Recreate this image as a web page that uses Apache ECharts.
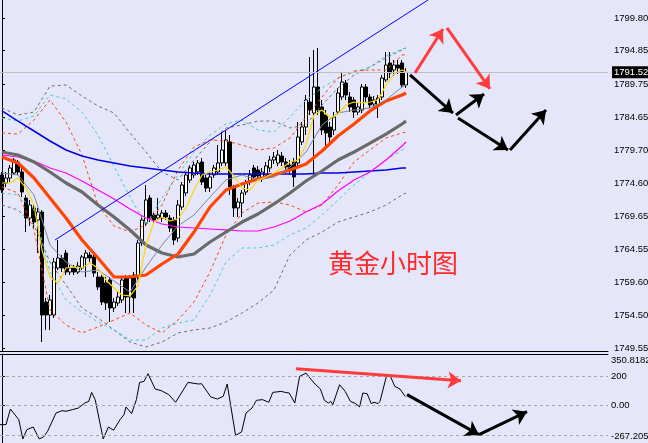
<!DOCTYPE html>
<html><head><meta charset="utf-8">
<script src="https://cdn.jsdelivr.net/npm/echarts/dist/echarts.min.js"></script>
<style>html,body{margin:0;padding:0;background:#e6e6fa;}#c{width:648px;height:443px;}</style>
</head><body><div id="c"></div>
<script>
// ---- candles (index = bar number) ----
const opens=[1775.89,1774.67,1775.43,1776.20,1777.87,1776.35,1772.39,1769.34,1770.87,1769.04,1770.26,1756.55,1754.57,1754.57,1761.73,1763.25,1764.01,1761.12,1761.73,1761.12,1761.73,1763.25,1763.71,1763.41,1760.36,1760.36,1759.45,1759.90,1755.64,1756.40,1756.86,1760.36,1757.31,1760.66,1760.36,1765.54,1768.58,1772.39,1769.80,1769.34,1769.34,1770.10,1769.34,1769.04,1766.30,1771.02,1773.15,1775.13,1775.89,1776.35,1777.87,1775.43,1773.91,1775.89,1776.35,1777.72,1777.72,1780.92,1774.06,1770.87,1771.63,1773.30,1774.83,1776.96,1776.65,1775.43,1775.89,1776.96,1778.18,1777.72,1778.78,1777.87,1777.41,1777.87,1777.72,1780.92,1783.20,1787.01,1785.33,1789.29,1786.25,1785.03,1783.20,1782.74,1785.48,1787.77,1789.90,1787.77,1787.31,1785.48,1785.79,1789.29,1787.77,1786.70,1786.55,1787.77,1790.36,1792.95,1791.88,1792.64,1792.95,1789.60];
const closes=[1773.61,1775.43,1776.96,1778.18,1776.35,1773.30,1769.34,1771.32,1768.73,1770.26,1754.57,1754.57,1756.86,1762.64,1763.25,1761.73,1761.12,1761.73,1761.12,1762.03,1763.41,1764.01,1763.25,1760.97,1758.84,1756.55,1756.40,1755.64,1756.55,1757.31,1759.90,1757.31,1760.21,1757.16,1765.54,1769.04,1772.08,1769.34,1769.04,1769.80,1770.10,1769.50,1767.82,1765.99,1771.32,1774.37,1775.89,1776.96,1777.41,1777.72,1774.83,1773.91,1775.59,1776.96,1777.72,1779.70,1781.22,1774.06,1770.87,1771.78,1773.15,1774.67,1775.89,1775.59,1775.74,1776.35,1777.26,1778.18,1778.63,1778.94,1777.87,1777.11,1776.65,1775.59,1781.68,1783.20,1787.31,1785.79,1789.29,1785.79,1782.74,1782.29,1781.68,1784.72,1788.38,1790.05,1788.07,1786.25,1785.48,1786.25,1789.29,1787.77,1786.55,1787.31,1787.62,1790.66,1792.64,1791.42,1792.64,1792.18,1789.60,1791.52];
const lows=[1773.15,1774.06,1774.83,1775.89,1775.89,1772.54,1767.21,1768.13,1767.82,1764.01,1750.46,1752.29,1752.29,1754.12,1761.42,1761.12,1760.66,1760.66,1760.66,1760.82,1761.42,1760.36,1762.64,1760.36,1758.38,1756.09,1755.33,1753.51,1755.03,1755.94,1756.40,1754.88,1754.88,1754.88,1759.90,1765.08,1768.13,1768.73,1768.58,1769.04,1768.73,1769.04,1767.21,1765.23,1765.69,1770.56,1772.69,1774.67,1775.43,1775.89,1774.37,1773.30,1773.30,1775.43,1775.89,1777.26,1777.26,1772.85,1769.50,1769.50,1769.50,1772.85,1774.37,1775.13,1775.13,1774.83,1775.43,1776.35,1777.57,1777.26,1777.26,1776.35,1775.89,1774.06,1777.11,1780.46,1781.98,1785.03,1775.59,1785.03,1781.98,1779.70,1780.92,1781.98,1785.03,1787.31,1787.31,1785.48,1784.57,1785.03,1785.33,1787.01,1786.09,1786.09,1784.57,1787.31,1790.05,1790.66,1790.97,1791.27,1789.14,1789.14];
const highs=[1776.35,1776.35,1777.41,1778.48,1778.18,1776.96,1772.85,1772.08,1771.32,1770.87,1770.56,1757.16,1757.62,1763.25,1765.99,1763.71,1764.47,1762.19,1762.19,1762.64,1763.71,1764.47,1764.17,1763.71,1761.12,1760.66,1760.36,1760.36,1757.16,1758.07,1760.36,1760.66,1760.66,1761.12,1765.99,1769.80,1774.37,1772.85,1770.26,1772.39,1770.56,1770.56,1769.80,1769.50,1772.08,1774.83,1776.35,1777.41,1777.87,1778.18,1778.48,1775.89,1776.35,1777.41,1780.46,1782.44,1782.74,1781.98,1774.37,1772.39,1773.61,1775.13,1776.65,1777.41,1777.26,1776.96,1777.87,1778.78,1779.39,1779.70,1779.39,1778.48,1778.18,1778.48,1783.96,1783.96,1788.07,1793.86,1794.93,1795.23,1787.31,1785.79,1783.96,1785.48,1789.14,1791.58,1790.36,1788.53,1787.77,1786.86,1789.75,1789.75,1788.23,1787.92,1788.07,1791.12,1794.62,1794.62,1793.40,1793.40,1793.40,1792.18];
const lastPrice=1791.52;

// ---- indicator lines, read at sampled bars ----
const idxEvery4=[0,4,8,12,16,20,24,28,32,36,40,44,48,52,56,60,64,68,72,76,80,84,88,92,96,100,101];
const idxEvery2=[0,2,4,6,8,10,12,14,16,18,20,22,24,26,28,30,32,34,36,38,40,42,44,46,48,50,52,54,56,58,60,62,64,66,68,70,72,74,76,78,80,82,84,86,88,90,92,94,96,98,100,101];
const maYellow=[1774.67,1774.67,1775.43,1773.91,1771.32,1764.47,1760.36,1759.45,1761.73,1761.88,1761.73,1762.49,1761.73,1759.90,1758.69,1757.62,1757.47,1758.99,1765.23,1768.73,1769.50,1768.89,1769.19,1770.87,1773.61,1775.89,1776.35,1776.65,1777.11,1775.74,1773.91,1773.61,1775.13,1775.59,1776.20,1776.96,1777.87,1778.18,1780.46,1785.03,1785.79,1784.57,1785.18,1786.55,1787.01,1786.86,1787.01,1787.31,1789.60,1791.27,1791.88,1791.58];
const maGrayThin=[1776.20,1775.89,1772.85,1765.23,1762.64,1761.12,1761.42,1759.75,1758.07,1761.88,1765.23,1768.13,1769.80,1772.54,1775.13,1775.89,1775.13,1775.59,1777.11,1779.39,1783.51,1785.33,1785.79,1786.09,1787.31,1789.29,1789.60];
const maOrange=[1778.63,1777.72,1775.43,1772.39,1769.34,1765.99,1763.25,1760.36,1760.36,1760.66,1762.34,1763.86,1767.21,1771.02,1773.61,1774.52,1775.28,1775.89,1776.65,1777.57,1779.55,1781.83,1783.66,1785.64,1787.16,1788.07,1788.38];
const maDarkGray=[1779.39,1778.94,1777.87,1776.35,1774.67,1773.30,1771.32,1769.50,1767.52,1765.23,1764.01,1763.41,1763.86,1765.69,1767.21,1768.73,1769.95,1771.48,1773.15,1774.98,1776.50,1778.18,1779.39,1780.76,1782.13,1783.66,1784.11];
const maMagenta=[1778.94,1778.63,1778.02,1776.96,1776.20,1774.98,1773.61,1772.24,1770.71,1769.34,1768.43,1767.97,1767.82,1767.67,1767.52,1767.36,1767.36,1767.97,1768.89,1770.26,1771.48,1773.45,1775.13,1776.35,1778.18,1780.31,1780.92];
const maBlue=[1785.64,1784.11,1782.59,1781.07,1779.70,1778.78,1778.18,1777.72,1777.26,1776.96,1776.65,1776.35,1776.20,1776.04,1776.04,1776.04,1776.04,1776.04,1776.04,1776.04,1776.20,1776.20,1776.35,1776.50,1776.65,1776.96,1776.96];
const bandOrangeUp=[1782.29,1782.13,1784.27,1787.31,1783.96,1778.94,1771.32,1768.13,1767.21,1768.28,1771.32,1776.65,1780.15,1781.22,1781.07,1780.46,1779.70,1780.00,1781.53,1784.72,1787.77,1790.66,1791.73,1791.88,1791.88,1794.17,1794.17];
const bandOrangeDn=[1774.06,1773.15,1767.52,1755.33,1753.05,1751.83,1752.75,1753.81,1754.88,1753.05,1751.83,1753.81,1756.55,1761.12,1766.75,1770.10,1771.63,1771.78,1771.32,1770.26,1771.32,1774.37,1777.87,1779.70,1781.53,1782.29,1782.44];
const bandCyanUp=[1784.57,1784.11,1784.88,1788.07,1787.47,1785.48,1781.98,1777.26,1772.54,1768.28,1772.39,1775.89,1779.39,1781.98,1783.66,1784.27,1782.74,1782.44,1784.72,1787.31,1789.14,1790.66,1791.58,1792.34,1794.01,1795.08,1795.23];
const bandCyanDn=[1773.15,1772.85,1770.56,1761.12,1756.86,1755.03,1753.51,1752.29,1750.76,1750.76,1752.59,1753.36,1753.81,1757.62,1762.64,1764.78,1764.78,1765.23,1766.75,1767.82,1769.80,1772.08,1774.37,1776.35,1778.18,1779.70,1780.00];
const bandGrayUp=[1786.09,1785.03,1785.48,1789.44,1789.60,1787.92,1786.40,1785.33,1782.29,1779.39,1776.35,1775.13,1778.18,1780.92,1783.05,1783.51,1784.11,1784.11,1783.05,1783.51,1786.55,1789.14,1791.12,1792.34,1793.71,1794.93,1795.23];
const bandGrayDn=[1771.32,1770.56,1768.28,1762.64,1759.14,1755.64,1754.12,1752.29,1750.46,1749.70,1750.46,1751.83,1752.29,1752.59,1753.51,1754.88,1756.40,1758.38,1763.71,1765.99,1767.21,1768.73,1769.50,1770.26,1771.32,1772.85,1773.15];

// ---- trend line and hand-drawn arrows: [bar, price] ----
const trendLine=[[13.25,1765.99],[106.5,1802.54]];
const redArrowsMain=[[[103.25,1791.42],[110.25,1798.12]],[[111.25,1798.28],[122,1788.99]]];
const blackArrowsMain=[[[102,1791.12],[112.75,1785.33]],[[113.5,1785.03],[120.5,1788.23]],[[114,1784.57],[126.5,1779.70]],[[127,1779.70],[136,1785.79]]];

// ---- CCI sub-window ----
const cciBar=[-0.5,1.0,2.1,4.2,5.2,6.2,7.8,8.3,9.3,10.4,11.4,13.5,15.0,16.0,17.6,19.1,20.7,21.7,22.4,23.3,25.3,26.6,27.9,29.5,30.5,31.0,32.4,33.6,34.4,35.5,36.5,38.3,39.8,41.7,43.4,46.5,49.1,49.9,52.2,53.8,55.3,56.3,58.4,59.9,61.0,62.5,63.6,65.1,66.7,67.7,69.8,70.8,71.8,73.2,74.4,76.0,76.3,78.0,79.6,80.6,81.6,82.2,82.7,84.4,85.8,87.1,88.4,89.4,90.2,91.3,92.3,93.0,94.0,94.5,96.1,96.6,97.1,98.2,99.5,100.8];
const cciVal=[-129,-129,-23,-95,-226,-163,-145,-136,-226,-212,-174,-50,-34,-38,-27,-16,18,29,90,41,-226,-145,-167,-95,-61,-9,-54,41,158,165,217,113,102,75,23,158,147,149,59,45,63,147,-203,-178,-50,-16,36,41,23,90,97,90,86,18,199,221,233,154,113,36,18,29,7,142,97,29,14,-9,86,81,14,23,14,29,199,203,199,131,113,63];
const cciLevels=[200,0,-200];
const redArrowsSub=[[[73.5,251],[114.75,169]]];
const blackArrowsSub=[[[101.25,75],[119.25,-197]],[[119.25,-197],[131.25,-41]]];

// ---- axis ticks ----
const priceTicks=[1799.80,1794.85,1789.75,1784.65,1779.70,1774.60,1769.65,1764.55,1759.60,1754.50,1749.55];
const cciMin=-267.205, cciMax=350.8182;
const cciTicks=[200,0,-200];
// extent labels are drawn just inside the window (as the terminal does)
const cciLabelAt=[308,200,0,-200,-210];
const cciLabelText=['350.8182','200','0.00','-200','-267.205'];
const priceMin=1749.09, priceMax=1802.54;
const barMin=-0.5, barMax=151.5;

const candleData=opens.map((o,i)=>[i,o,closes[i],lows[i],highs[i]]);
const pair=(xs,ys)=>ys.map((v,i)=>[xs[i],v]);
const FONT='Liberation Sans';

function mline(xs,ys,color,width,type){
  return {type:'line',xAxisIndex:0,yAxisIndex:0,data:pair(xs,ys),symbol:'none',silent:true,
    lineStyle:{color:color,width:width,type:type||'solid'},z:3};
}
function arrows(list,color,xi,yi){
  return {type:'lines',coordinateSystem:'cartesian2d',xAxisIndex:xi,yAxisIndex:yi,silent:true,
    data:list.map(c=>({coords:c})),symbol:['none','arrow'],symbolSize:[11,13],
    lineStyle:{color:color,width:3,opacity:1,curveness:0},z:10};
}

const chart=echarts.init(document.getElementById('c'),null,{renderer:'canvas'});
chart.setOption({
  animation:false,
  backgroundColor:'#e6e6fa',
  title:{text:'黄金小时图',left:323,top:245,textStyle:{color:'#ff2b2b',fontSize:26,fontWeight:'normal',fontFamily:'Noto Sans CJK SC'}},
  grid:[{left:0,right:40,top:0,height:351,containLabel:false,outerBoundsMode:'none'},
        {left:0,right:40,top:354,height:91,containLabel:false,outerBoundsMode:'none'}],
  xAxis:[
    {type:'value',gridIndex:0,min:barMin,max:barMax,position:'bottom',axisLine:{show:true,onZero:false,lineStyle:{color:'#000',width:1}},axisTick:{show:false},axisLabel:{show:false},splitLine:{show:false}},
    {type:'value',gridIndex:1,min:barMin,max:barMax,position:'top',axisLine:{show:true,onZero:false,lineStyle:{color:'#000',width:1}},axisTick:{show:false},axisLabel:{show:false},splitLine:{show:false}}
  ],
  yAxis:[
    {type:'value',gridIndex:0,position:'right',min:priceMin,max:priceMax,
     axisLine:{show:true,lineStyle:{color:'#000'}},
     axisTick:{show:true,length:3,lineStyle:{color:'#000'},customValues:priceTicks},
     axisLabel:{show:true,customValues:priceTicks,formatter:v=>v.toFixed(2),color:'#000',fontSize:9.5,fontFamily:FONT,margin:6,hideOverlap:false,showMinLabel:true,showMaxLabel:true},
     splitLine:{show:false}},
    {type:'value',gridIndex:1,position:'right',min:cciMin,max:cciMax,
     axisLine:{show:true,lineStyle:{color:'#000'}},
     axisTick:{show:true,length:3,lineStyle:{color:'#000'},customValues:cciTicks},
     axisLabel:{show:true,customValues:cciLabelAt,hideOverlap:false,showMinLabel:true,showMaxLabel:true,
       formatter:v=>{const k=cciLabelAt.findIndex(t=>Math.abs(t-v)<1e-6);return k>=0?cciLabelText[k]:'';},
       color:'#000',fontSize:9.5,fontFamily:FONT,margin:3},
     splitLine:{show:false}}
  ],
  series:[
    mline(idxEvery4,bandGrayUp,'#6e6e6e',1,[3,3]),
    mline(idxEvery4,bandGrayDn,'#6e6e6e',1,[3,3]),
    mline(idxEvery4,bandCyanUp,'#40d0d0',1,[3,3]),
    mline(idxEvery4,bandCyanDn,'#40d0d0',1,[3,3]),
    mline(idxEvery4,bandOrangeUp,'#ff4500',1,[3,3]),
    mline(idxEvery4,bandOrangeDn,'#ff4500',1,[3,3]),
    {type:'candlestick',xAxisIndex:0,yAxisIndex:0,data:candleData,barWidth:3,silent:true,z:2,
     itemStyle:{color:'#ffffff',color0:'#000000',borderColor:'#000000',borderColor0:'#000000',borderWidth:1},
     markLine:{silent:true,symbol:'none',animation:false,data:[{yAxis:lastPrice}],
       lineStyle:{color:'#c0c0c0',width:1,type:'solid'},
       label:{show:true,position:'end',formatter:lastPrice.toFixed(2),backgroundColor:'#000',color:'#fff',fontSize:9.5,fontFamily:FONT,padding:[1,2,1,2],distance:4}}},
    mline(idxEvery4,maBlue,'#0000e0',1.5),
    mline(idxEvery4,maMagenta,'#ff00ff',1.2),
    mline(idxEvery4,maDarkGray,'#6a6a6a',3.2),
    mline(idxEvery4,maOrange,'#ff4500',3.2),
    mline(idxEvery4,maGrayThin,'#7a8a9a',1),
    mline(idxEvery2,maYellow,'#ffd700',1.2),
    {type:'line',xAxisIndex:0,yAxisIndex:0,data:trendLine,symbol:'none',silent:true,lineStyle:{color:'#0000ff',width:1},z:4},
    arrows(redArrowsMain,'#ff3b3b',0,0),
    arrows(blackArrowsMain,'#000000',0,0),
    {type:'line',xAxisIndex:1,yAxisIndex:1,data:pair(cciBar,cciVal),symbol:'none',silent:true,lineStyle:{color:'#000',width:1},z:3,
     markLine:{silent:true,symbol:'none',animation:false,label:{show:false},lineStyle:{color:'#a8a8a8',width:1,type:[3,3]},data:cciLevels.map(v=>({yAxis:v}))}},
    arrows(redArrowsSub,'#ff3b3b',1,1),
    arrows(blackArrowsSub,'#000000',1,1)
  ]
});
</script></body></html>
